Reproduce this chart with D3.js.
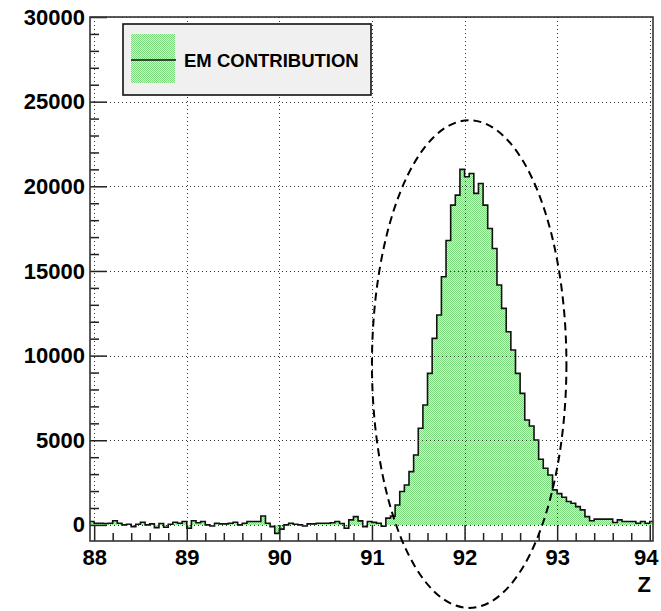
<!DOCTYPE html>
<html>
<head>
<meta charset="utf-8">
<script src="https://cdn.jsdelivr.net/npm/d3@7"></script>
<style>
  body { margin: 0; background: #ffffff; }
  svg text { font-family: "Liberation Sans", Arial, sans-serif; font-weight: bold; }
</style>
</head>
<body>
<div id="chart"></div>
<script>
// histogram binning (Z, bins of 0.05)
var binStart = 87.95;
var binWidth = 0.05;

// entries per bin
var counts = [
  200, 100, 100, 80, 100, 250, 100, 0, 40, -100,
  40, 160, 0, 60, -160, 80, -140, 40, 160, 100,
  200, -200, 250, 130, 200, 0, -60, 100, 60, 60,
  100, 160, 0, 100, 200, 200, 200, 530, 100, -100,
  -500, -250, 0, 100, 40, 0, -60, 60, 60, 100,
  100, 100, 130, 200, 80, -200, 300, 490, 240, -100,
  200, 150, 100, -80, 400, 520, 1180, 1970, 2360, 3150,
  4130, 5710, 7080, 8950, 11020, 12400, 14660, 16800, 18890, 19480,
  21000, 20560, 20760, 19580, 20170, 18890, 17510, 16330, 14170, 12790,
  11410, 10330, 8950, 7770, 6200, 5840, 5020, 3880, 3350, 2950,
  2070, 1850, 1630, 1380, 1280, 1080, 890, 490, 250, 340,
  340, 340, 340, 140, 300, 200, 200, 200, 100, 200,
  100, 200
];

var xTicks = [88, 89, 90, 91, 92, 93, 94];
var yTicks = [0, 5000, 10000, 15000, 20000, 25000, 30000];
var legendLabel = "EM CONTRIBUTION";
var xTitle = "Z";

// dashed ellipse marking the peak, in data units
var ellipseX = [91.0, 93.1];
var ellipseY = [-4900, 23900];

var margin = { top: 17, right: 8, bottom: 70, left: 90 };
var svgWidth = 661;
var svgHeight = 611;

var xScale = d3.scaleLinear().domain([87.955, 94.035]).range([margin.left, svgWidth - margin.right]);
var yScale = d3.scaleLinear().domain([-950, 30000]).range([svgHeight - margin.bottom, margin.top]);

var x0 = xScale.range()[0], x1 = xScale.range()[1];
var yTop = yScale.range()[1], yBot = yScale.range()[0];

var svg = d3.select("#chart")
  .append("svg")
  .attr("width", svgWidth)
  .attr("height", svgHeight);

var defs = svg.append("defs");

// fine dotted green fill like ROOT's fill style
var pat = defs.append("pattern")
  .attr("id", "greenFill")
  .attr("width", 2)
  .attr("height", 2)
  .attr("patternUnits", "userSpaceOnUse");
pat.append("rect").attr("width", 2).attr("height", 2).attr("fill", "#d2f4d2");
pat.append("rect").attr("x", 0).attr("y", 0).attr("width", 1).attr("height", 1).attr("fill", "#7cd87c");
pat.append("rect").attr("x", 1).attr("y", 1).attr("width", 1).attr("height", 1).attr("fill", "#7cd87c");

defs.append("clipPath")
  .attr("id", "plotClip")
  .append("rect")
  .attr("x", x0)
  .attr("y", yTop)
  .attr("width", x1 - x0)
  .attr("height", yBot - yTop);

/************* Histogram ****************/
var steps = [];
counts.forEach(function (c, i) {
  steps.push([binStart + i * binWidth, c]);
  steps.push([binStart + (i + 1) * binWidth, c]);
});

var area = d3.area()
  .x(function (d) { return xScale(d[0]); })
  .y0(yScale(0))
  .y1(function (d) { return yScale(d[1]); });

var line = d3.line()
  .x(function (d) { return xScale(d[0]); })
  .y(function (d) { return yScale(d[1]); });

var hist = svg.append("g").attr("clip-path", "url(#plotClip)");

hist.append("path")
  .datum(steps)
  .attr("d", area)
  .attr("fill", "url(#greenFill)");

hist.append("path")
  .datum(steps)
  .attr("d", line)
  .attr("fill", "none")
  .attr("stroke", "#111")
  .attr("stroke-width", 1.6);

/************* Grid ****************/
var grid = svg.append("g")
  .attr("stroke", "#333")
  .attr("stroke-width", 1)
  .attr("stroke-dasharray", "1,3");

grid.selectAll("line.vgrid").data(xTicks)
  .enter()
  .append("line")
  .attr("class", "vgrid")
  .attr("x1", function (d) { return Math.round(xScale(d)) + 0.5; })
  .attr("x2", function (d) { return Math.round(xScale(d)) + 0.5; })
  .attr("y1", yTop)
  .attr("y2", yBot);

grid.selectAll("line.hgrid").data(yTicks)
  .enter()
  .append("line")
  .attr("class", "hgrid")
  .attr("x1", x0)
  .attr("x2", x1)
  .attr("y1", function (d) { return Math.round(yScale(d)) + 0.5; })
  .attr("y2", function (d) { return Math.round(yScale(d)) + 0.5; });

/************* Axes ****************/
var xMinor = d3.range(88, 94.01, 0.2).filter(function (v) { return Math.abs(v - Math.round(v)) > 0.01; });
var yMinor = d3.range(0, 30001, 1000).filter(function (v) { return v % 5000 !== 0; });

// x axis, ticks pointing into the frame
svg.append("g")
  .attr("class", "xaxis")
  .attr("transform", "translate(0," + yBot + ")")
  .call(d3.axisBottom(xScale).tickValues(xTicks).tickSize(-16).tickPadding(8)
    .tickFormat(function (d) { return d; }));

svg.append("g")
  .attr("class", "xminor")
  .attr("transform", "translate(0," + yBot + ")")
  .call(d3.axisBottom(xScale).tickValues(xMinor).tickSize(-8).tickFormat(""));

// y axis
svg.append("g")
  .attr("class", "yaxis")
  .attr("transform", "translate(" + x0 + ",0)")
  .call(d3.axisLeft(yScale).tickValues(yTicks).tickSize(-17).tickPadding(5)
    .tickFormat(function (d) { return d; }));

svg.append("g")
  .attr("class", "yminor")
  .attr("transform", "translate(" + x0 + ",0)")
  .call(d3.axisLeft(yScale).tickValues(yMinor).tickSize(-9).tickFormat(""));

svg.selectAll(".xaxis, .xminor, .yaxis, .yminor").select(".domain").remove();
svg.selectAll(".tick line").attr("stroke", "#222").attr("stroke-width", 1.5);
svg.selectAll(".xaxis text, .yaxis text")
  .attr("font-size", "22px")
  .attr("fill", "#000");

// keep the last x label inside the page
svg.selectAll(".xaxis .tick text")
  .filter(function (d) { return d === 94; })
  .attr("x", -4);

// frame
svg.append("rect")
  .attr("x", x0)
  .attr("y", yTop)
  .attr("width", x1 - x0)
  .attr("height", yBot - yTop)
  .attr("fill", "none")
  .attr("stroke", "#333")
  .attr("stroke-width", 1.6);

// axis title
svg.append("text")
  .attr("x", 651)
  .attr("y", 592)
  .attr("text-anchor", "end")
  .attr("font-size", "22px")
  .text(xTitle);

/************* Legend ****************/
var legend = svg.append("g");

legend.append("rect")
  .attr("x", 123)
  .attr("y", 24)
  .attr("width", 248)
  .attr("height", 71)
  .attr("fill", "#f0f0f0")
  .attr("stroke", "#111")
  .attr("stroke-width", 1.6);

legend.append("rect")
  .attr("x", 131)
  .attr("y", 34)
  .attr("width", 44)
  .attr("height", 49)
  .attr("fill", "url(#greenFill)");

legend.append("line")
  .attr("x1", 131)
  .attr("x2", 176)
  .attr("y1", 60)
  .attr("y2", 60)
  .attr("stroke", "#111")
  .attr("stroke-width", 1.6);

legend.append("text")
  .attr("x", 184)
  .attr("y", 66.5)
  .attr("font-size", "18.5px")
  .text(legendLabel);

/************* Peak ellipse ****************/
svg.append("ellipse")
  .attr("cx", (xScale(ellipseX[0]) + xScale(ellipseX[1])) / 2)
  .attr("cy", (yScale(ellipseY[0]) + yScale(ellipseY[1])) / 2)
  .attr("rx", (xScale(ellipseX[1]) - xScale(ellipseX[0])) / 2)
  .attr("ry", (yScale(ellipseY[0]) - yScale(ellipseY[1])) / 2)
  .attr("fill", "none")
  .attr("stroke", "#000")
  .attr("stroke-width", 2)
  .attr("stroke-dasharray", "8,5");
</script>
</body>
</html>
